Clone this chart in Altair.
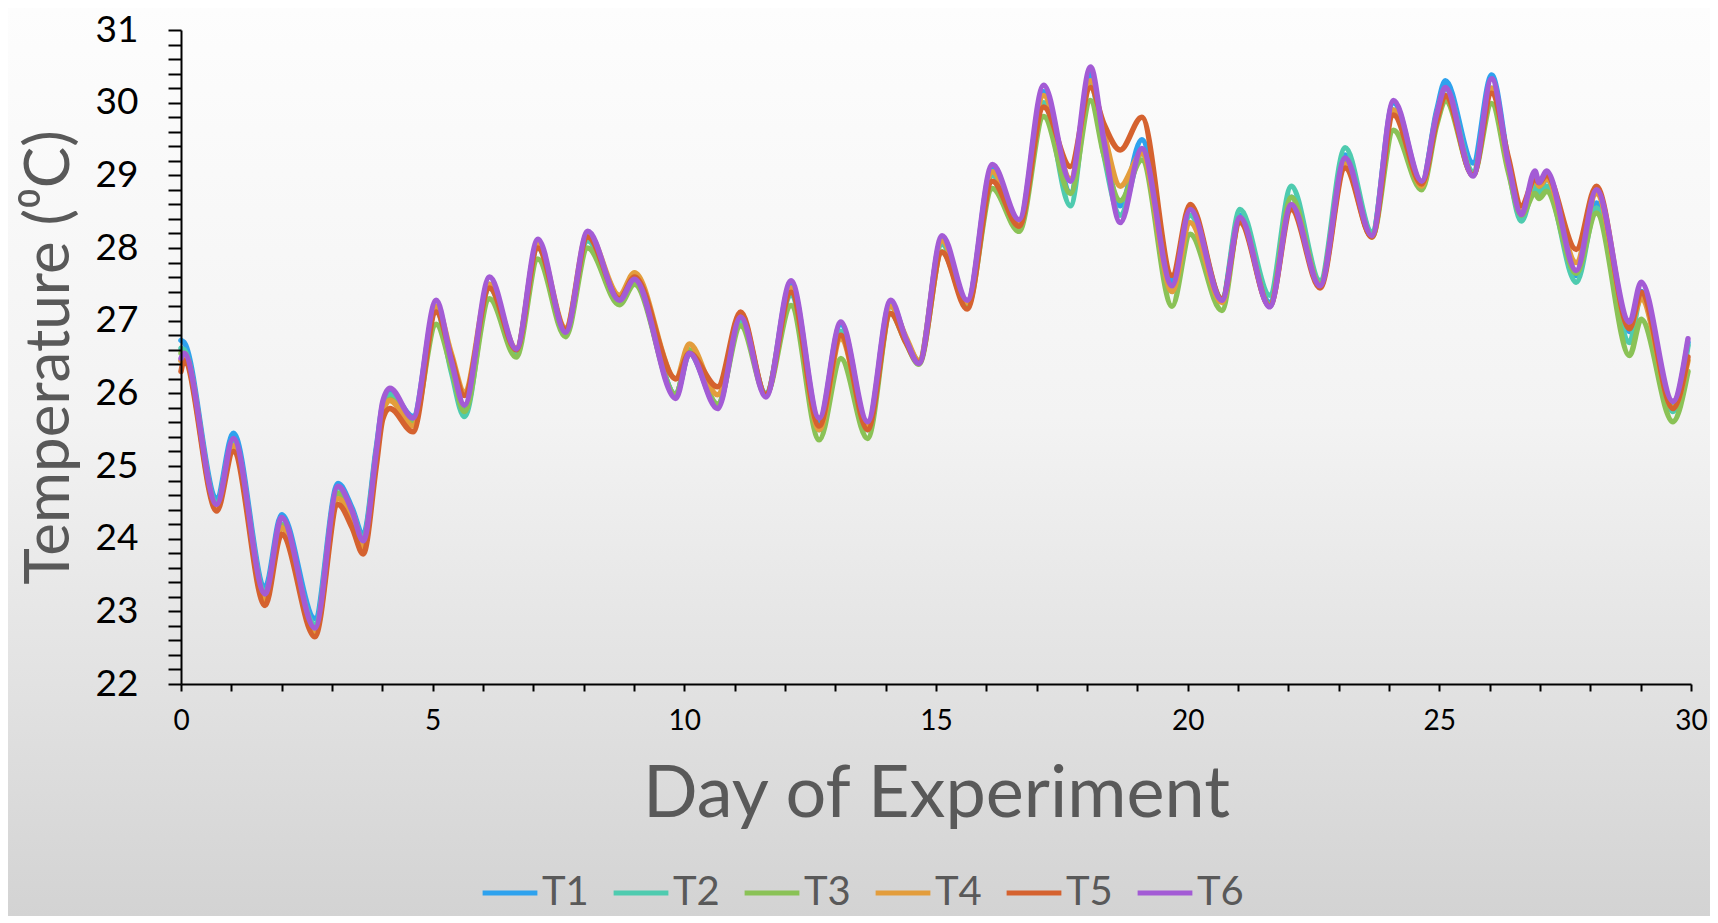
import altair as alt
import pandas as pd

days = [0.00, 0.06, 0.71, 1.04, 1.67, 2.00, 2.66, 3.12, 3.40, 3.62, 3.88, 4.01, 4.15, 4.61,
        5.07, 5.37, 5.63, 6.13, 6.66, 7.09, 7.64, 8.08, 8.71, 9.01, 9.83, 10.10, 10.66, 11.12,
        11.62, 12.12, 12.68, 13.11, 13.64, 14.10, 14.40, 14.66, 15.12, 15.62, 16.12, 16.65,
        17.14, 17.67, 18.07, 18.33, 18.66, 19.09, 19.69, 20.05, 20.68, 21.04, 21.63, 22.06,
        22.63, 23.13, 23.66, 24.09, 24.65, 24.95, 25.12, 25.67, 26.04, 26.37, 26.63, 26.90,
        26.98, 27.13, 27.72, 28.12, 28.78, 29.01, 29.64, 29.94]

T1 = [26.73, 26.70, 24.56, 25.45, 23.33, 24.33, 22.90, 24.76, 24.42, 24.05, 25.25, 25.85, 26.02, 25.68,
      27.20, 26.40, 25.78, 27.50, 26.60, 28.05, 26.85, 28.15, 27.30, 27.55, 25.98, 26.55, 25.82, 27.05,
      25.98, 27.50, 25.62, 26.95, 25.55, 27.25, 26.75, 26.42, 28.12, 27.25, 29.10, 28.35,
      30.15, 28.76, 30.40, 29.45, 28.58, 29.49, 27.55, 28.55, 27.30, 28.45, 27.25, 28.70,
      27.50, 29.28, 28.20, 30.00, 28.90, 29.90, 30.30, 29.17, 30.38, 29.20, 28.42, 28.95,
      28.80, 28.95, 27.62, 28.62, 26.85, 27.40, 25.85, 26.70]

T2 = [26.62, 26.60, 24.50, 25.35, 23.28, 24.20, 22.82, 24.70, 24.38, 24.00, 25.20, 25.80, 25.98, 25.62,
      27.15, 26.30, 25.68, 27.45, 26.55, 28.00, 26.85, 28.10, 27.30, 27.55, 25.98, 26.55, 25.85, 27.00,
      26.00, 27.35, 25.50, 26.85, 25.50, 27.20, 26.75, 26.45, 28.05, 27.25, 29.00, 28.32,
      30.00, 28.58, 30.30, 29.30, 28.45, 29.30, 27.40, 28.45, 27.30, 28.53, 27.35, 28.85,
      27.55, 29.38, 28.22, 29.90, 28.88, 29.85, 30.20, 29.05, 30.20, 29.10, 28.37, 28.85,
      28.75, 28.85, 27.53, 28.55, 26.70, 27.35, 25.75, 26.66]

T3 = [26.55, 26.55, 24.45, 25.25, 23.20, 24.18, 22.75, 24.62, 24.35, 23.95, 25.15, 25.75, 25.92, 25.58,
      26.95, 26.35, 25.75, 27.30, 26.50, 27.85, 26.78, 28.00, 27.22, 27.50, 25.98, 26.60, 25.85, 26.93,
      25.98, 27.21, 25.36, 26.48, 25.38, 27.10, 26.70, 26.40, 27.95, 27.20, 28.82, 28.23,
      29.81, 28.75, 30.03, 29.30, 28.65, 29.21, 27.20, 28.19, 27.14, 28.40, 27.22, 28.70,
      27.50, 29.20, 28.15, 29.62, 28.80, 29.70, 30.03, 29.00, 29.99, 29.05, 28.45, 28.75,
      28.68, 28.78, 27.65, 28.48, 26.52, 27.02, 25.61, 26.30]

T4 = [26.45, 26.50, 24.42, 25.28, 23.15, 24.15, 22.70, 24.55, 24.30, 23.88, 25.10, 25.75, 25.90, 25.55,
      27.20, 26.55, 26.02, 27.50, 26.62, 28.05, 26.90, 28.20, 27.35, 27.66, 26.20, 26.68, 25.98, 27.08,
      25.98, 27.45, 25.50, 26.75, 25.55, 27.20, 26.78, 26.45, 28.10, 27.25, 29.05, 28.35,
      30.10, 28.95, 30.30, 29.60, 28.85, 29.30, 27.40, 28.35, 27.25, 28.40, 27.20, 28.60,
      27.48, 29.15, 28.15, 29.90, 28.85, 29.80, 30.10, 29.00, 30.20, 29.15, 28.50, 28.95,
      28.85, 28.95, 27.80, 28.75, 26.90, 27.30, 25.80, 26.45]

T5 = [26.30, 26.45, 24.38, 25.20, 23.08, 24.06, 22.65, 24.47, 24.15, 23.79, 25.00, 25.65, 25.79, 25.47,
      27.12, 26.50, 25.97, 27.45, 26.60, 28.00, 26.88, 28.15, 27.30, 27.60, 26.20, 26.55, 26.09, 27.12,
      25.98, 27.39, 25.55, 26.80, 25.50, 27.10, 26.70, 26.42, 27.94, 27.16, 28.92, 28.30,
      29.94, 29.12, 30.21, 29.72, 29.35, 29.80, 27.62, 28.60, 27.30, 28.35, 27.20, 28.53,
      27.45, 29.10, 28.15, 29.83, 28.88, 29.75, 30.10, 29.00, 30.13, 29.25, 28.58, 28.95,
      28.90, 29.00, 27.98, 28.85, 26.89, 27.39, 25.79, 26.50]

T6 = [26.48, 26.55, 24.47, 25.38, 23.24, 24.29, 22.77, 24.72, 24.38, 23.97, 25.20, 25.89, 26.07, 25.66,
      27.28, 26.45, 25.84, 27.60, 26.61, 28.12, 26.84, 28.23, 27.28, 27.57, 25.93, 26.55, 25.79, 27.05,
      25.95, 27.55, 25.66, 26.98, 25.61, 27.28, 26.75, 26.41, 28.17, 27.28, 29.15, 28.39,
      30.24, 28.92, 30.49, 29.50, 28.35, 29.37, 27.48, 28.53, 27.28, 28.42, 27.19, 28.60,
      27.48, 29.24, 28.17, 30.03, 28.92, 29.85, 30.21, 28.99, 30.33, 29.17, 28.46, 29.06,
      28.90, 29.06, 27.69, 28.80, 26.98, 27.53, 25.89, 26.75]

series_names = ["T1", "T2", "T3", "T4", "T5", "T6"]
series_values = [T1, T2, T3, T4, T5, T6]
series_colors = ["#2EA2EE", "#4ECBAF", "#8AC256", "#E39D3C", "#D5622F", "#A35BD5"]

x_ticks = list(range(0, 31))
y_ticks = [round(22 + 0.2 * i, 1) for i in range(46)]

rows = []
for name, vals in zip(series_names, series_values):
    for i, (d, v) in enumerate(zip(days, vals)):
        rows.append({"day": d, "temp": v, "series": name, "idx": i})
df = pd.DataFrame(rows)

W, H = 1510, 654
PAD_L, PAD_T, PAD_R, PAD_B = 173, 22, 19, 232

bg = alt.Chart(pd.DataFrame({"k": [0]})).mark_rect(
    color=alt.Gradient(
        gradient="linear",
        stops=[alt.GradientStop(color="#fdfdfd", offset=0),
               alt.GradientStop(color="#f3f3f3", offset=0.45),
               alt.GradientStop(color="#d3d3d3", offset=1)],
        x1=0, x2=0, y1=0, y2=1),
).encode(
    x=alt.value(-PAD_L), x2=alt.value(W + PAD_R),
    y=alt.value(-PAD_T), y2=alt.value(H + PAD_B),
)

lines = alt.Chart(df).mark_line(
    strokeWidth=5.5, interpolate="monotone", strokeCap="round", strokeJoin="round"
).encode(
    x=alt.X("day:Q",
            scale=alt.Scale(domain=[0, 30], nice=False, zero=False),
            axis=alt.Axis(values=x_ticks, zindex=1, labelFlush=False,
                          labelExpr="datum.value % 5 == 0 ? format(datum.value, 'd') : ''",
                          labelOverlap=False, labelFontSize=28, labelColor="black",
                          labelPadding=16, tickSize=7, tickWidth=2, tickColor="black",
                          domainColor="black", domainWidth=2, grid=False,
                          title="Day of Experiment", titleFontSize=72, titleColor="#595959",
                          titleFontWeight="normal", titleX=755, titleY=132,
                          titleAlign="center", titleBaseline="alphabetic")),
    y=alt.Y("temp:Q",
            scale=alt.Scale(domain=[22, 31], nice=False, zero=False),
            axis=alt.Axis(values=y_ticks, zindex=1, labelFlush=False,
                          labelExpr="datum.value % 1 == 0 ? format(datum.value, 'd') : ''",
                          labelOverlap=False, labelFontSize=37, labelColor="black",
                          labelPadding=30, tickSize=13, tickWidth=2, tickColor="black",
                          domainColor="black", domainWidth=2, grid=False,
                          title="Temperature (\u2070C)", titleFontSize=62, titleColor="#595959",
                          titleFontWeight="normal", titleAngle=270, titleX=-113, titleY=H / 2,
                          titleAlign="center", titleBaseline="alphabetic")),
    color=alt.Color("series:N",
                    scale=alt.Scale(domain=series_names, range=series_colors),
                    legend=alt.Legend(title=None, orient="none", direction="horizontal",
                                      legendX=299, legendY=833, zindex=1,
                                      symbolType="stroke", symbolStrokeWidth=5, symbolSize=3000,
                                      labelFontSize=40, labelColor="#595959", labelOffset=2,
                                      columnPadding=14, labelFont="Lato")),
    order=alt.Order("idx:Q"),
    detail="series:N",
)

chart = alt.layer(bg, lines).properties(
    width=W, height=H,
    autosize=alt.AutoSizeParams(type="none"),
    padding={"left": PAD_L, "top": PAD_T, "right": PAD_R, "bottom": PAD_B},
).configure(font="Lato").configure_view(stroke=None)

chart.save("out.html", embed_options={"renderer": "svg", "actions": False})
